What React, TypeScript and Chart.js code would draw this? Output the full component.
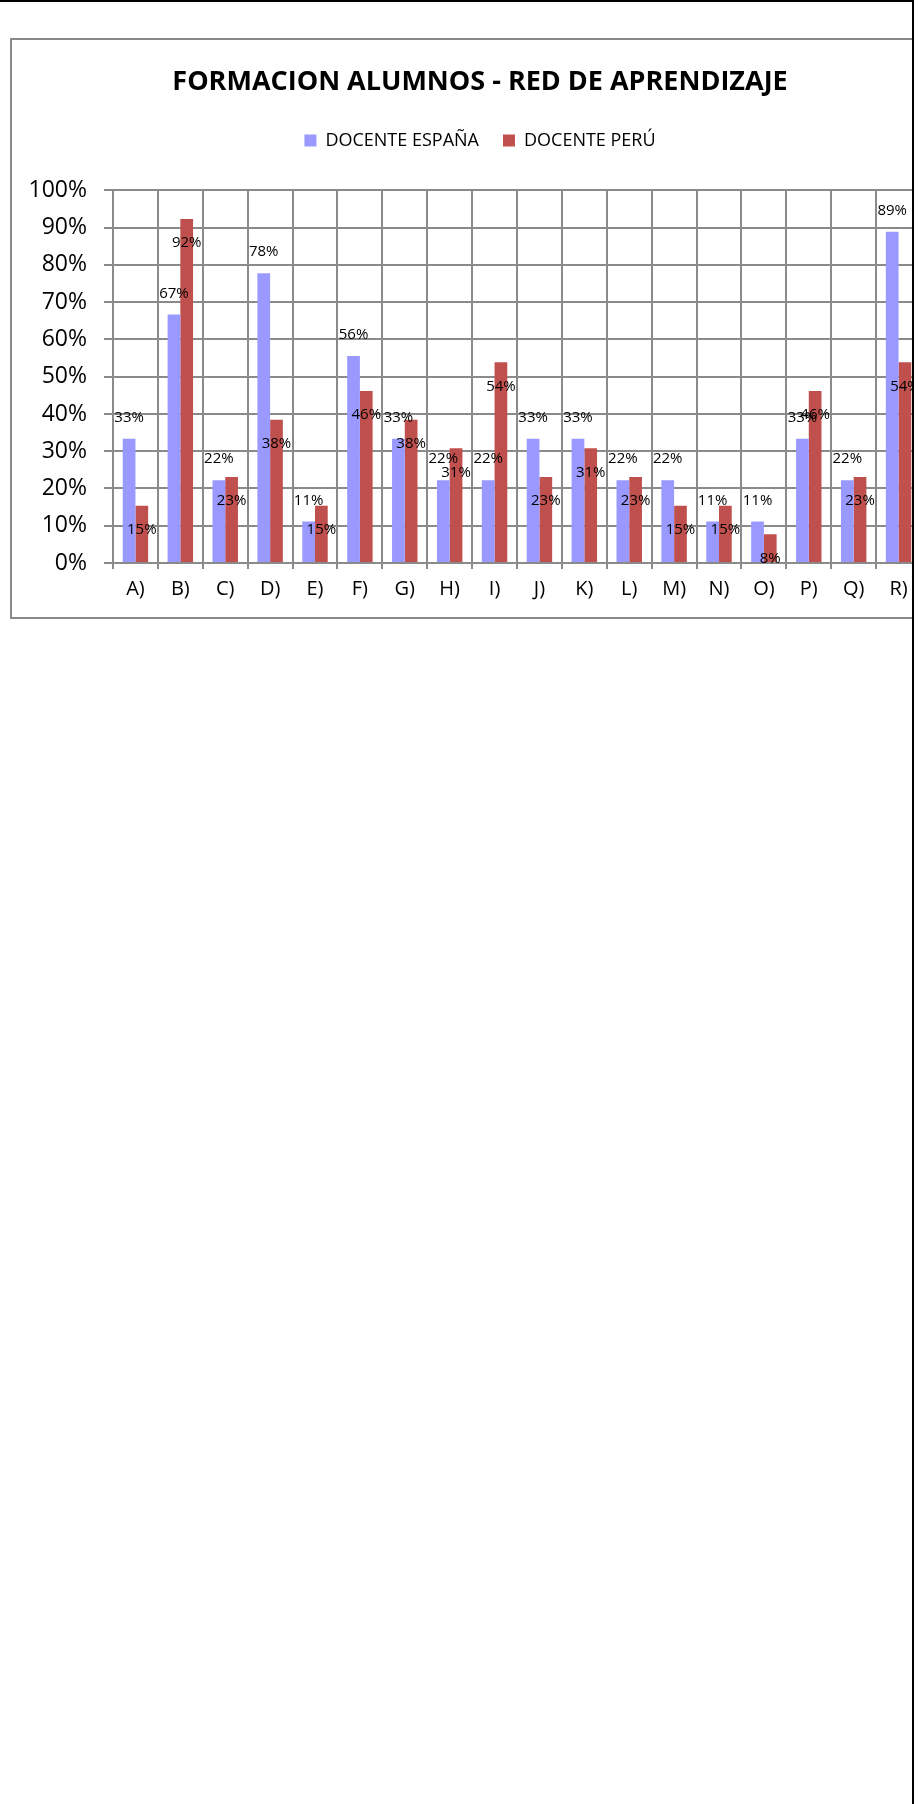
import React, { useEffect, useRef } from "react";
import { Chart, registerables } from "chart.js";

Chart.register(...registerables);

const categories = ["A)", "B)", "C)", "D)", "E)", "F)", "G)", "H)", "I)", "J)", "K)", "L)", "M)", "N)", "O)", "P)", "Q)", "R)"];
const seriesNames = ["DOCENTE ESPAÑA", "DOCENTE PERÚ"];
const docenteEspana = [33.33, 66.67, 22.22, 77.78, 11.11, 55.56, 33.33, 22.22, 22.22, 33.33, 33.33, 22.22, 22.22, 11.11, 11.11, 33.33, 22.22, 88.89];
const docentePeru = [15.38, 92.31, 23.08, 38.46, 15.38, 46.15, 38.46, 30.77, 53.85, 23.08, 30.77, 23.08, 15.38, 15.38, 7.69, 46.15, 23.08, 53.85];
const yMin = 0;
const yMax = 100;
const yStep = 10;
const titleText = "FORMACION ALUMNOS - RED DE APRENDIZAJE";

const BLUE = "#9999FF";
const RED = "#C0504D";
const GRID = "#8a8a8a";
const FONT = "'Open Sans', 'DejaVu Sans', sans-serif";

const valueLabels = {
  id: "valueLabels",
  afterDatasetsDraw(chart: any) {
    const ctx = chart.ctx;
    ctx.save();
    ctx.font = `15px ${FONT}`;
    ctx.fillStyle = "#000";
    ctx.textAlign = "center";
    ctx.textBaseline = "middle";
    chart.data.datasets.forEach((ds: any, di: number) => {
      const meta = chart.getDatasetMeta(di);
      meta.data.forEach((bar: any, i: number) => {
        const v = ds.data[i];
        const off = di === 0 ? -21 : 24;
        ctx.fillText(Math.round(v) + "%", bar.x, bar.y + off);
      });
    });
    ctx.restore();
  },
};

const legendSpacer = {
  id: "legendSpacer",
  beforeUpdate(chart: any) {
    const lg = chart.legend;
    if (lg && !lg._spacerPatched) {
      const orig = lg.fit;
      lg.fit = function () {
        orig.call(this);
        this.height += 31;
      };
      lg._spacerPatched = true;
    }
  },
};

function BarChart() {
  const ref = useRef<HTMLCanvasElement | null>(null);
  useEffect(() => {
    if (!ref.current) return;
    const chart = new Chart(ref.current, {
      type: "bar",
      data: {
        labels: categories,
        datasets: [
          { label: seriesNames[0], data: docenteEspana, backgroundColor: BLUE, borderWidth: 0 },
          { label: seriesNames[1], data: docentePeru, backgroundColor: RED, borderWidth: 0 },
        ],
      },
      options: {
        animation: false,
        responsive: false,
        devicePixelRatio: 1,
        layout: { padding: { left: 0, right: 0, top: 0, bottom: 8 } },
        datasets: { bar: { categoryPercentage: 0.567, barPercentage: 1 } },
        plugins: {
          title: {
            display: true,
            text: titleText,
            color: "#000",
            font: { family: FONT, size: 27, weight: "bold" },
            padding: { top: 26, bottom: 9 },
          },
          legend: {
            display: true,
            position: "top",
            labels: {
              boxWidth: 12,
              boxHeight: 12,
              padding: 24,
              color: "#000",
              font: { family: FONT, size: 18 },
            },
          },
          tooltip: { enabled: false },
        },
        scales: {
          x: {
            grid: { color: GRID, lineWidth: 2, tickLength: 6, offset: true },
            border: { color: GRID, width: 2 },
            ticks: { color: "#000", font: { family: FONT, size: 20 }, padding: 8, maxRotation: 0, autoSkip: false },
          },
          y: {
            min: yMin,
            max: yMax,
            grid: { color: GRID, lineWidth: 2, tickLength: 9 },
            border: { color: GRID, width: 2 },
            ticks: {
              stepSize: yStep,
              color: "#000",
              font: { family: FONT, size: 23 },
              padding: 17,
              callback: (v: any) => v + "%",
            },
            afterFit: (s: any) => {
              s.width = 101;
            },
          },
          ySpacer: {
            type: "linear",
            position: "right",
            display: true,
            min: 0,
            max: 1,
            grid: { display: false, drawTicks: false },
            border: { display: false },
            ticks: { display: false },
            afterFit: (s: any) => {
              s.width = 27;
            },
          },
        },
      },
      plugins: [valueLabels, legendSpacer],
    } as any);
    return () => chart.destroy();
  }, []);
  return <canvas ref={ref} width={936} height={577} style={{ display: "block", width: 936, height: 577 }} />;
}

export default function App() {
  return (
    <div style={{ position: "absolute", left: 0, top: 0, width: 923, height: 1804, background: "#fff", overflow: "hidden" }}>
      <div style={{ position: "absolute", left: 0, top: 0, width: 912, height: 1804, overflow: "hidden" }}>
        <div
          style={{
            position: "absolute",
            left: 10,
            top: 38,
            width: 936,
            height: 577,
            border: "2px solid #898989",
            background: "#fff",
          }}
        >
          <BarChart />
        </div>
      </div>
      <div style={{ position: "absolute", left: 0, top: 0, width: 914, height: 2, background: "#000" }} />
      <div style={{ position: "absolute", left: 912, top: 0, width: 2, height: 1804, background: "#000" }} />
    </div>
  );
}
